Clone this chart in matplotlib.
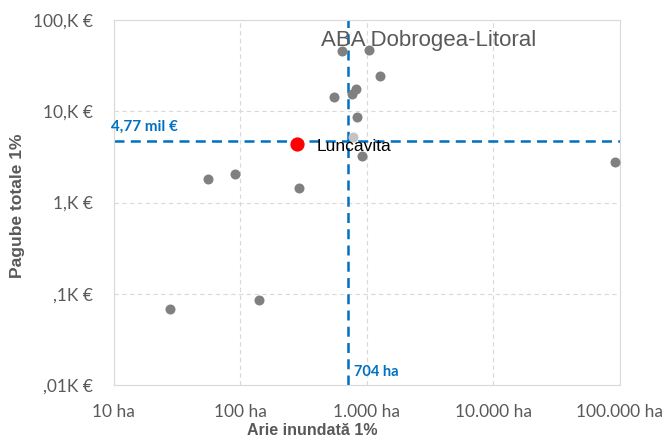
import numpy as np
from matplotlib import pyplot as plt

# data (area in ha, damages in thousand EUR)
area_ha = [27.6, 55, 90, 141, 292, 550, 635, 1037, 1264, 759, 815, 840, 918, 91400]
damage_k = [0.068, 1.83, 2.07, 0.085, 1.46, 14.4, 45.8, 47, 24.4, 15.5, 17.6, 8.7, 3.2, 2.8]
faded_area = [776]
faded_damage = [5.26]
highlight_name = "Luncavita"
highlight_area = 281
highlight_damage = 4.42
median_area = 704
median_damage = 4.77

x_ticks = [10, 100, 1000, 10000, 100000]
x_labels = ["10 ha", "100 ha", "1.000 ha", "10.000 ha", "100.000 ha"]
y_ticks = [0.01, 0.1, 1, 10, 100]
y_labels = [",01K €", ",1K €", "1,K €", "10,K €", "100,K €"]

blue = "#0070C0"
txt_gray = "#595959"

fig = plt.figure(figsize=(6.7, 4.38), dpi=100)
ax = fig.add_axes([0.170, 0.121, 0.755, 0.833])
ax.set_xscale('log')
ax.set_yscale('log')
ax.set_xlim(10, 100000)
ax.set_ylim(0.01, 100)

ax.grid(True, which='major', color='#d9d9d9', linestyle=(0, (4, 3)), linewidth=0.8)
ax.minorticks_off()
ax.set_axisbelow(True)
for sp in ax.spines.values():
    sp.set_color('#d9d9d9')

ax.set_xticks(x_ticks)
ax.set_xticklabels(x_labels)
ax.set_yticks(y_ticks)
ax.set_yticklabels(y_labels)
ax.tick_params(length=0, colors=txt_gray, labelsize=12.5)
ax.tick_params(axis='x', pad=14)
ax.tick_params(axis='y', pad=15)
for lab in ax.get_xticklabels() + ax.get_yticklabels():
    lab.set_family('Lato')

ax.axvline(median_area, color=blue, linestyle=(0, (4, 2.5)), linewidth=1.8, zorder=2)
ax.axhline(median_damage, color=blue, linestyle=(0, (4, 2.5)), linewidth=1.8, zorder=2)

ax.scatter(area_ha, damage_k, s=52, color='#808080', zorder=3, linewidths=0)
ax.scatter(faded_area, faded_damage, s=52, color='#c4c4c4', zorder=3, linewidths=0)
ax.scatter([highlight_area], [highlight_damage], s=105, color='#ff0000', zorder=4, linewidths=0)
ax.annotate(highlight_name, (highlight_area, highlight_damage), xytext=(14, -2),
            textcoords='offset points', va='center', ha='left', fontsize=12.5,
            family='Liberation Sans', color='black', zorder=5)

ax.annotate("4,77 mil €", (10, median_damage), xytext=(-2, 5), textcoords='offset points',
            ha='left', va='bottom', fontsize=11, fontweight='bold', color=blue, family='Lato')
ax.annotate("704 ha", (median_area, 0.01), xytext=(5, 4), textcoords='offset points',
            ha='left', va='bottom', fontsize=10.5, fontweight='bold', color=blue, family='Lato')

ax.text(0.623, 0.972, "ABA Dobrogea-Litoral", transform=ax.transAxes, ha='center', va='top',
        fontsize=16, color=txt_gray, family='Liberation Sans')

fig.text(0.026, 0.53, "Pagube totale 1%", rotation=90, ha='center', va='center',
         fontsize=12.5, fontweight='bold', color=txt_gray, family='Liberation Sans')
fig.text(0.466, 0.0, "Arie inundată 1%", ha='center', va='bottom',
         fontsize=11.5, fontweight='bold', color=txt_gray, family='Liberation Sans')

fig.savefig("out.png", dpi=100)
